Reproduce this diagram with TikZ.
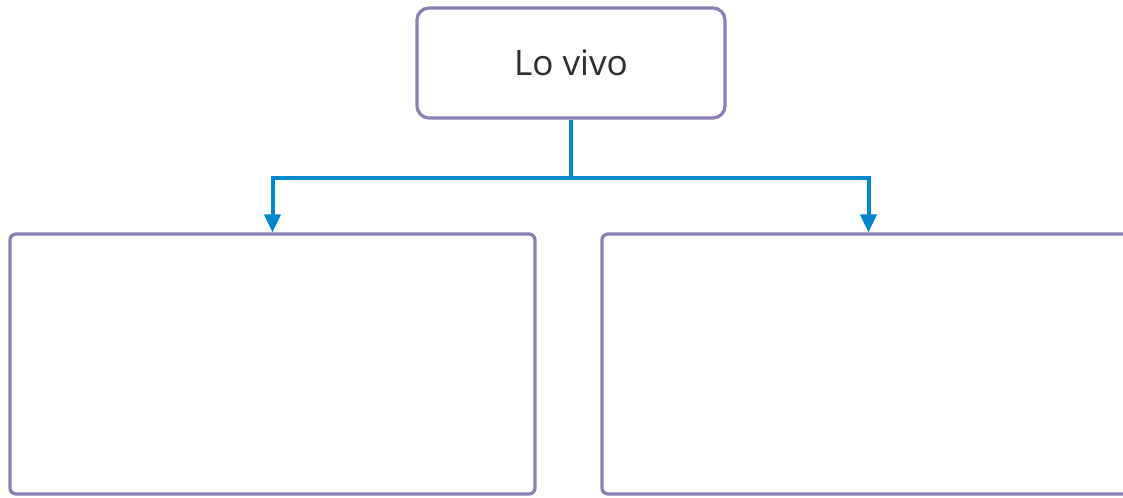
\documentclass[tikz,border=0pt]{standalone}
\usepackage{fontspec}
\setsansfont{Open Sans}
\usetikzlibrary{arrows.meta, positioning}
\definecolor{boxpurple}{RGB}{142,126,184}
\definecolor{linkblue}{RGB}{0,136,204}
\definecolor{textgray}{RGB}{45,45,50}
\tikzset{
  box/.style={draw=boxpurple, line width=1.6mm, rounded corners=3mm, fill=white},
  link/.style={draw=linkblue, line width=2mm, -{Triangle[width=8mm,length=9mm]}}
}
\begin{document}
\begin{tikzpicture}[x=0.5mm, y=-0.5mm]
\useasboundingbox (0,0) rectangle (1123,498);
\node[box, rounded corners=6mm, minimum width=154mm, minimum height=55mm,
      font=\sffamily\fontsize{50}{60}\selectfont, text=textgray]
      (vivo) at (571,63) {Lo vivo};
\node[box, minimum width=262.5mm, minimum height=130mm] (izq) at (272.5,364) {};
\node[box, minimum width=266.5mm, minimum height=130mm] (der) at (868.5,364) {};

\coordinate (split) at (571,178);
\draw[link, -] (vivo.south) -- (split);
\draw[link] (split) -| (izq.north);
\draw[link] (split) -| (der.north);
\end{tikzpicture}
\end{document}
